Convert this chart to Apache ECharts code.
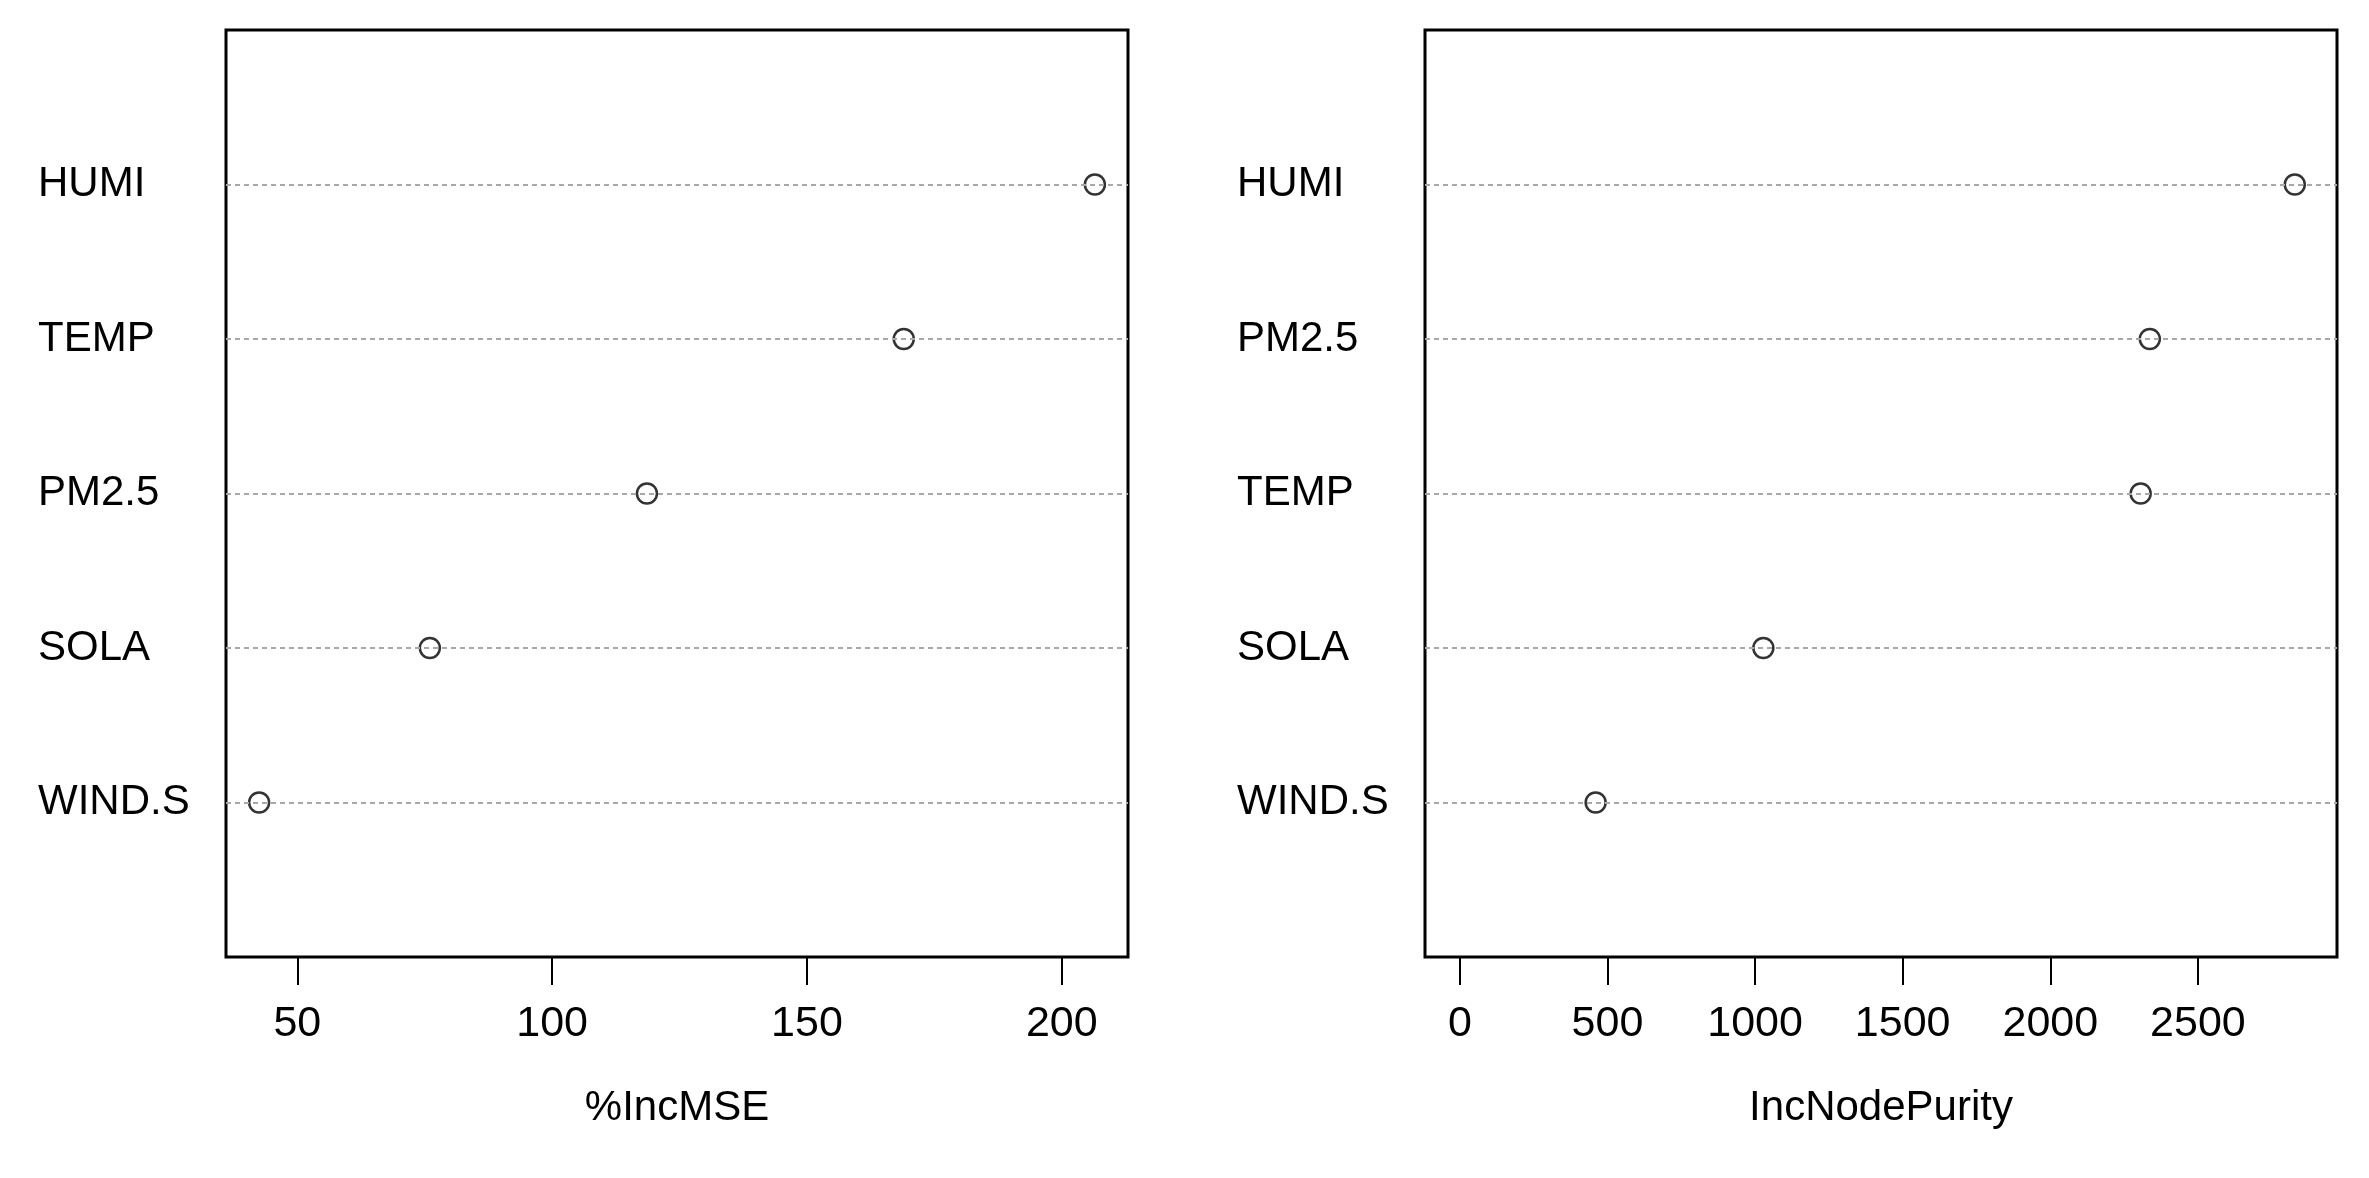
<!DOCTYPE html>
<html>
<head>
<meta charset="utf-8">
<script src="https://cdn.jsdelivr.net/npm/echarts@6/dist/echarts.min.js"></script>
<style>html,body{margin:0;padding:0;background:#fff}#main{width:2369px;height:1178px}</style>
</head>
<body>
<div id="main"></div>
<script>
// rows from bottom (1) to top (5)
var leftNames = ['WIND.S', 'SOLA', 'PM2.5', 'TEMP', 'HUMI'];
var leftValues = [42.5, 76, 118.6, 169, 206.5];
var rightNames = ['WIND.S', 'SOLA', 'TEMP', 'PM2.5', 'HUMI'];
var rightValues = [460, 1028, 2306, 2337, 2828];
var leftTicks = [50, 100, 150, 200];
var rightTicks = [0, 500, 1000, 1500, 2000, 2500];

var font = 'Liberation Sans, Arial, sans-serif';
var chart = echarts.init(document.getElementById('main'));

function yAxis(idx, names) {
  return {
    type: 'value', gridIndex: idx, min: 0, max: 6, interval: 1,
    axisLine: {show: false}, axisTick: {show: false}, splitLine: {show: false},
    axisLabel: {
      align: 'left', margin: 188, fontSize: 42, color: '#000', fontFamily: font,
      formatter: function (v) { return names[v - 1] || ''; }
    }
  };
}
function xAxis(idx, min, max, ticks, name) {
  return {
    type: 'value', gridIndex: idx, min: min, max: max,
    name: name, nameLocation: 'middle', nameGap: 130,
    nameTextStyle: {fontSize: 42, color: '#000', fontFamily: font},
    axisLine: {show: false}, splitLine: {show: false},
    axisTick: {show: true, length: 28, customValues: ticks, lineStyle: {color: '#000', width: 2}},
    axisLabel: {customValues: ticks, margin: 46, fontSize: 43, color: '#000', fontFamily: font,
      formatter: function (v) { return String(v); }}
  };
}
function series(idx, names, values) {
  return {
    type: 'scatter', xAxisIndex: idx, yAxisIndex: idx,
    data: values.map(function (v, i) { return [v, i + 1]; }),
    symbol: 'circle', symbolSize: 20,
    itemStyle: {color: '#fff', borderColor: '#000', borderWidth: 2.5},
    markLine: {
      silent: true, symbol: 'none', label: {show: false},
      lineStyle: {color: '#a8a8a8', type: [5, 4], width: 2},
      data: names.map(function (n, i) { return {yAxis: i + 1}; })
    },
    z: 3
  };
}

chart.setOption({
  animation: false,
  backgroundColor: '#fff',
  grid: [
    {left: 226, width: 902, top: 30, height: 927, show: true, borderColor: '#000', borderWidth: 3},
    {left: 1425, width: 912, top: 30, height: 927, show: true, borderColor: '#000', borderWidth: 3}
  ],
  xAxis: [
    xAxis(0, 36, 213, leftTicks, '%IncMSE'),
    xAxis(1, -118, 2971, rightTicks, 'IncNodePurity')
  ],
  yAxis: [yAxis(0, leftNames), yAxis(1, rightNames)],
  series: [series(0, leftNames, leftValues), series(1, rightNames, rightValues)]
});
</script>
</body>
</html>
